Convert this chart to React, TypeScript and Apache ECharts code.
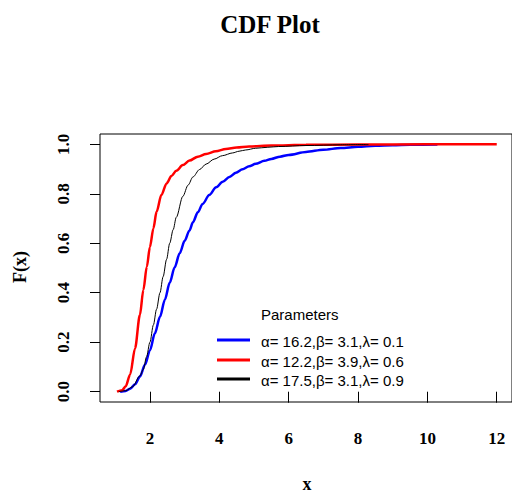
import React, { useEffect, useRef } from "react";
import * as echarts from "echarts";

const xTicks = [2, 4, 6, 8, 10, 12];
const yTicks = [0, 0.2, 0.4, 0.6, 0.8, 1.0];

const legendTitle = "Parameters";
const seriesNames = ["α= 16.2,β= 3.1,λ= 0.1", "α= 12.2,β= 3.9,λ= 0.6", "α= 17.5,β= 3.1,λ= 0.9"];
const seriesColors = ["#0000FF", "#FF0000", "#000000"];

const blueX = [1.14, 1.3, 1.43, 1.57, 1.71, 1.86, 2.0, 2.14, 2.29, 2.43, 2.57, 2.71, 2.86, 3.0, 3.14, 3.24, 3.38, 3.52, 3.71, 3.91, 4.1, 4.29, 4.48, 4.67, 4.86, 5.05, 5.3, 5.5, 5.75, 6.0, 6.5, 7.0, 7.5, 8.0, 8.5, 9.0, 9.5, 10.29];
const blueF = [0, 0.003, 0.012, 0.03, 0.061, 0.11, 0.167, 0.235, 0.303, 0.372, 0.44, 0.502, 0.56, 0.61, 0.652, 0.685, 0.725, 0.759, 0.795, 0.826, 0.849, 0.868, 0.885, 0.899, 0.911, 0.921, 0.933, 0.941, 0.95, 0.957, 0.969, 0.978, 0.985, 0.99, 0.994, 0.996, 0.998, 0.999];

const redX = [1.05, 1.2, 1.3, 1.43, 1.57, 1.71, 1.81, 1.91, 2.0, 2.1, 2.19, 2.33, 2.48, 2.62, 2.76, 2.95, 3.14, 3.38, 3.62, 3.9, 4.19, 4.5, 4.86, 5.5, 6.5, 8.0, 10.0, 12.0];
const redF = [0, 0.006, 0.022, 0.07, 0.175, 0.31, 0.411, 0.505, 0.585, 0.66, 0.727, 0.795, 0.842, 0.872, 0.893, 0.916, 0.934, 0.95, 0.961, 0.972, 0.981, 0.987, 0.991, 0.995, 0.998, 0.999, 1.0, 1.0];

const blackX = [1.1, 1.3, 1.5, 1.71, 1.81, 1.9, 2.0, 2.1, 2.19, 2.29, 2.38, 2.48, 2.57, 2.67, 2.76, 2.95, 3.1, 3.24, 3.43, 3.62, 3.85, 4.09, 4.38, 4.57, 4.76, 5.05, 5.4, 5.71, 6.5, 7.5, 8.3];
const blackF = [0, 0.004, 0.02, 0.064, 0.09, 0.14, 0.2, 0.27, 0.333, 0.4, 0.465, 0.535, 0.6, 0.655, 0.705, 0.79, 0.835, 0.868, 0.898, 0.92, 0.94, 0.954, 0.965, 0.972, 0.977, 0.984, 0.988, 0.991, 0.995, 0.998, 0.999];

const zip = (xs: number[], ys: number[]) => xs.map((x, i) => [x, ys[i]]);

export default function App() {
  const ref = useRef<HTMLDivElement>(null);
  useEffect(() => {
    if (!ref.current) return;
    const chart = echarts.init(ref.current, null, { renderer: "svg" });
    const serif = "Liberation Serif";
    const sans = "Liberation Sans";
    const legendRowsY = [340, 360, 379];
    const graphic: any[] = [
      { type: "text", x: 270, y: 24, style: { text: "CDF Plot", font: `bold 25px "${serif}"`, fill: "#000", textAlign: "center", textVerticalAlign: "middle" } },
      { type: "text", x: 307, y: 484, style: { text: "x", font: `bold 18px "${serif}"`, fill: "#000", textAlign: "center", textVerticalAlign: "middle" } },
      { type: "text", x: 20, y: 267, rotation: Math.PI / 2, style: { text: "F(x)", font: `bold 18px "${serif}"`, fill: "#000", textAlign: "center", textVerticalAlign: "middle" } },
      { type: "text", x: 261, y: 314, style: { text: legendTitle, font: `15px "${sans}"`, fill: "#000", textAlign: "left", textVerticalAlign: "middle" } },
    ];
    seriesNames.forEach((n, i) => {
      graphic.push({ type: "line", shape: { x1: 217, y1: legendRowsY[i], x2: 250, y2: legendRowsY[i] }, style: { stroke: seriesColors[i], lineWidth: 3 } });
      graphic.push({ type: "text", x: 261, y: legendRowsY[i] + 1, style: { text: n, font: `15px "${sans}"`, fill: "#000", textAlign: "left", textVerticalAlign: "middle" } });
    });
    const lineSeries = (i: number, xs: number[], ys: number[], w: number) => ({
      type: "line", name: seriesNames[i], data: zip(xs, ys), showSymbol: false, symbol: "none",
      smooth: 0.3, smoothMonotone: "x", lineStyle: { color: seriesColors[i], width: w },
    });
    chart.setOption({
      animation: false,
      grid: { left: 100, top: 134, width: 415, height: 268, show: true, borderColor: "#000", borderWidth: 1, backgroundColor: "transparent" },
      xAxis: {
        type: "value", min: 0.56, max: 12.44,
        axisLine: { show: false },
        splitLine: { show: false },
        axisTick: { show: true, inside: false, length: 11, customValues: xTicks, lineStyle: { color: "#000" } },
        axisLabel: { customValues: xTicks, margin: 28, color: "#000", fontFamily: serif, fontWeight: "bold", fontSize: 17 },
      },
      yAxis: {
        type: "value", min: -0.0416, max: 1.0416,
        axisLine: { show: false },
        splitLine: { show: false },
        axisTick: { show: true, inside: false, length: 10, customValues: yTicks, lineStyle: { color: "#000" } },
        axisLabel: { customValues: yTicks, rotate: 90, margin: 28, color: "#000", fontFamily: serif, fontWeight: "bold", fontSize: 17, formatter: (v: number) => v.toFixed(1) },
      },
      series: [
        lineSeries(0, blueX, blueF, 2.5),
        lineSeries(1, redX, redF, 2.5),
        lineSeries(2, blackX, blackF, 1),
      ],
      graphic,
    });
    return () => chart.dispose();
  }, []);
  return <div ref={ref} style={{ position: "absolute", left: 0, top: 0, width: 512, height: 495, background: "#fff" }} />;
}
